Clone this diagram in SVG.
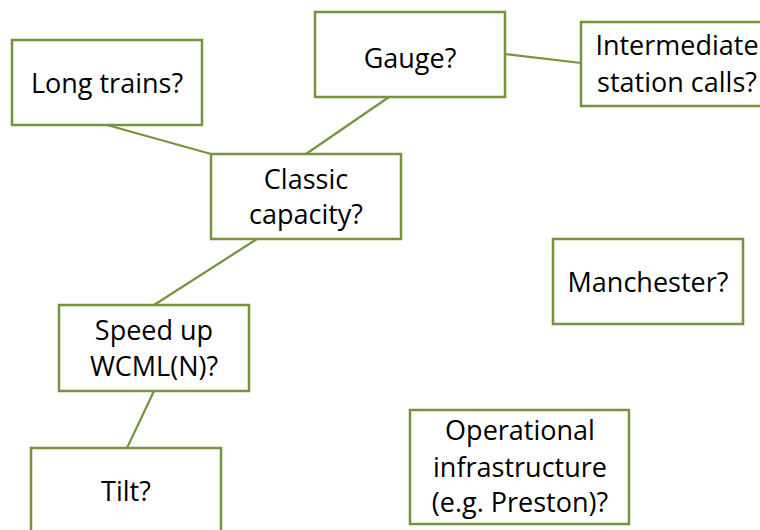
<svg xmlns="http://www.w3.org/2000/svg" width="760" height="530" viewBox="0 0 760 530">
<style>
.box{fill:#ffffff;stroke:#77933C;stroke-width:2.5}
.edge{stroke:#77933C;stroke-width:2.2;fill:none}
text{font-family:"Open Sans","Liberation Sans",Arial,sans-serif;font-size:27px;fill:#000;text-anchor:middle}
</style>
<rect width="760" height="530" fill="#ffffff"/>
<g id="connectors">
<line class="edge" x1="107" y1="125" x2="211" y2="154"/>
<line class="edge" x1="389" y1="97" x2="306" y2="154"/>
<line class="edge" x1="505" y1="54" x2="581" y2="63"/>
<line class="edge" x1="257" y1="239" x2="154" y2="305"/>
<line class="edge" x1="154" y1="391" x2="127" y2="448"/>
</g>
<g id="long-trains"><rect class="box" x="12" y="40" width="190" height="85"/><text x="107" y="93">Long trains?</text></g>
<g id="gauge"><rect class="box" x="315" y="12" width="190" height="85"/><text x="410" y="68">Gauge?</text></g>
<g id="intermediate"><rect class="box" x="581" y="22" width="200" height="84"/><text x="677" y="55">Intermediate</text><text x="677" y="92">station calls?</text></g>
<g id="classic"><rect class="box" x="211" y="154" width="190" height="85"/><text x="306" y="189">Classic</text><text x="306" y="224">capacity?</text></g>
<g id="manchester"><rect class="box" x="553" y="239" width="190" height="85"/><text x="648" y="292">Manchester?</text></g>
<g id="speed-up"><rect class="box" x="59" y="305" width="190" height="86"/><text x="154" y="340">Speed up</text><text x="154" y="376">WCML(N)?</text></g>
<g id="tilt"><rect class="box" x="31" y="448" width="190" height="100"/><text x="126" y="501">Tilt?</text></g>
<g id="operational"><rect class="box" x="410" y="410" width="219" height="114"/><text x="520" y="440">Operational</text><text x="520" y="477">infrastructure</text><text x="520" y="512">(e.g. Preston)?</text></g>
</svg>
